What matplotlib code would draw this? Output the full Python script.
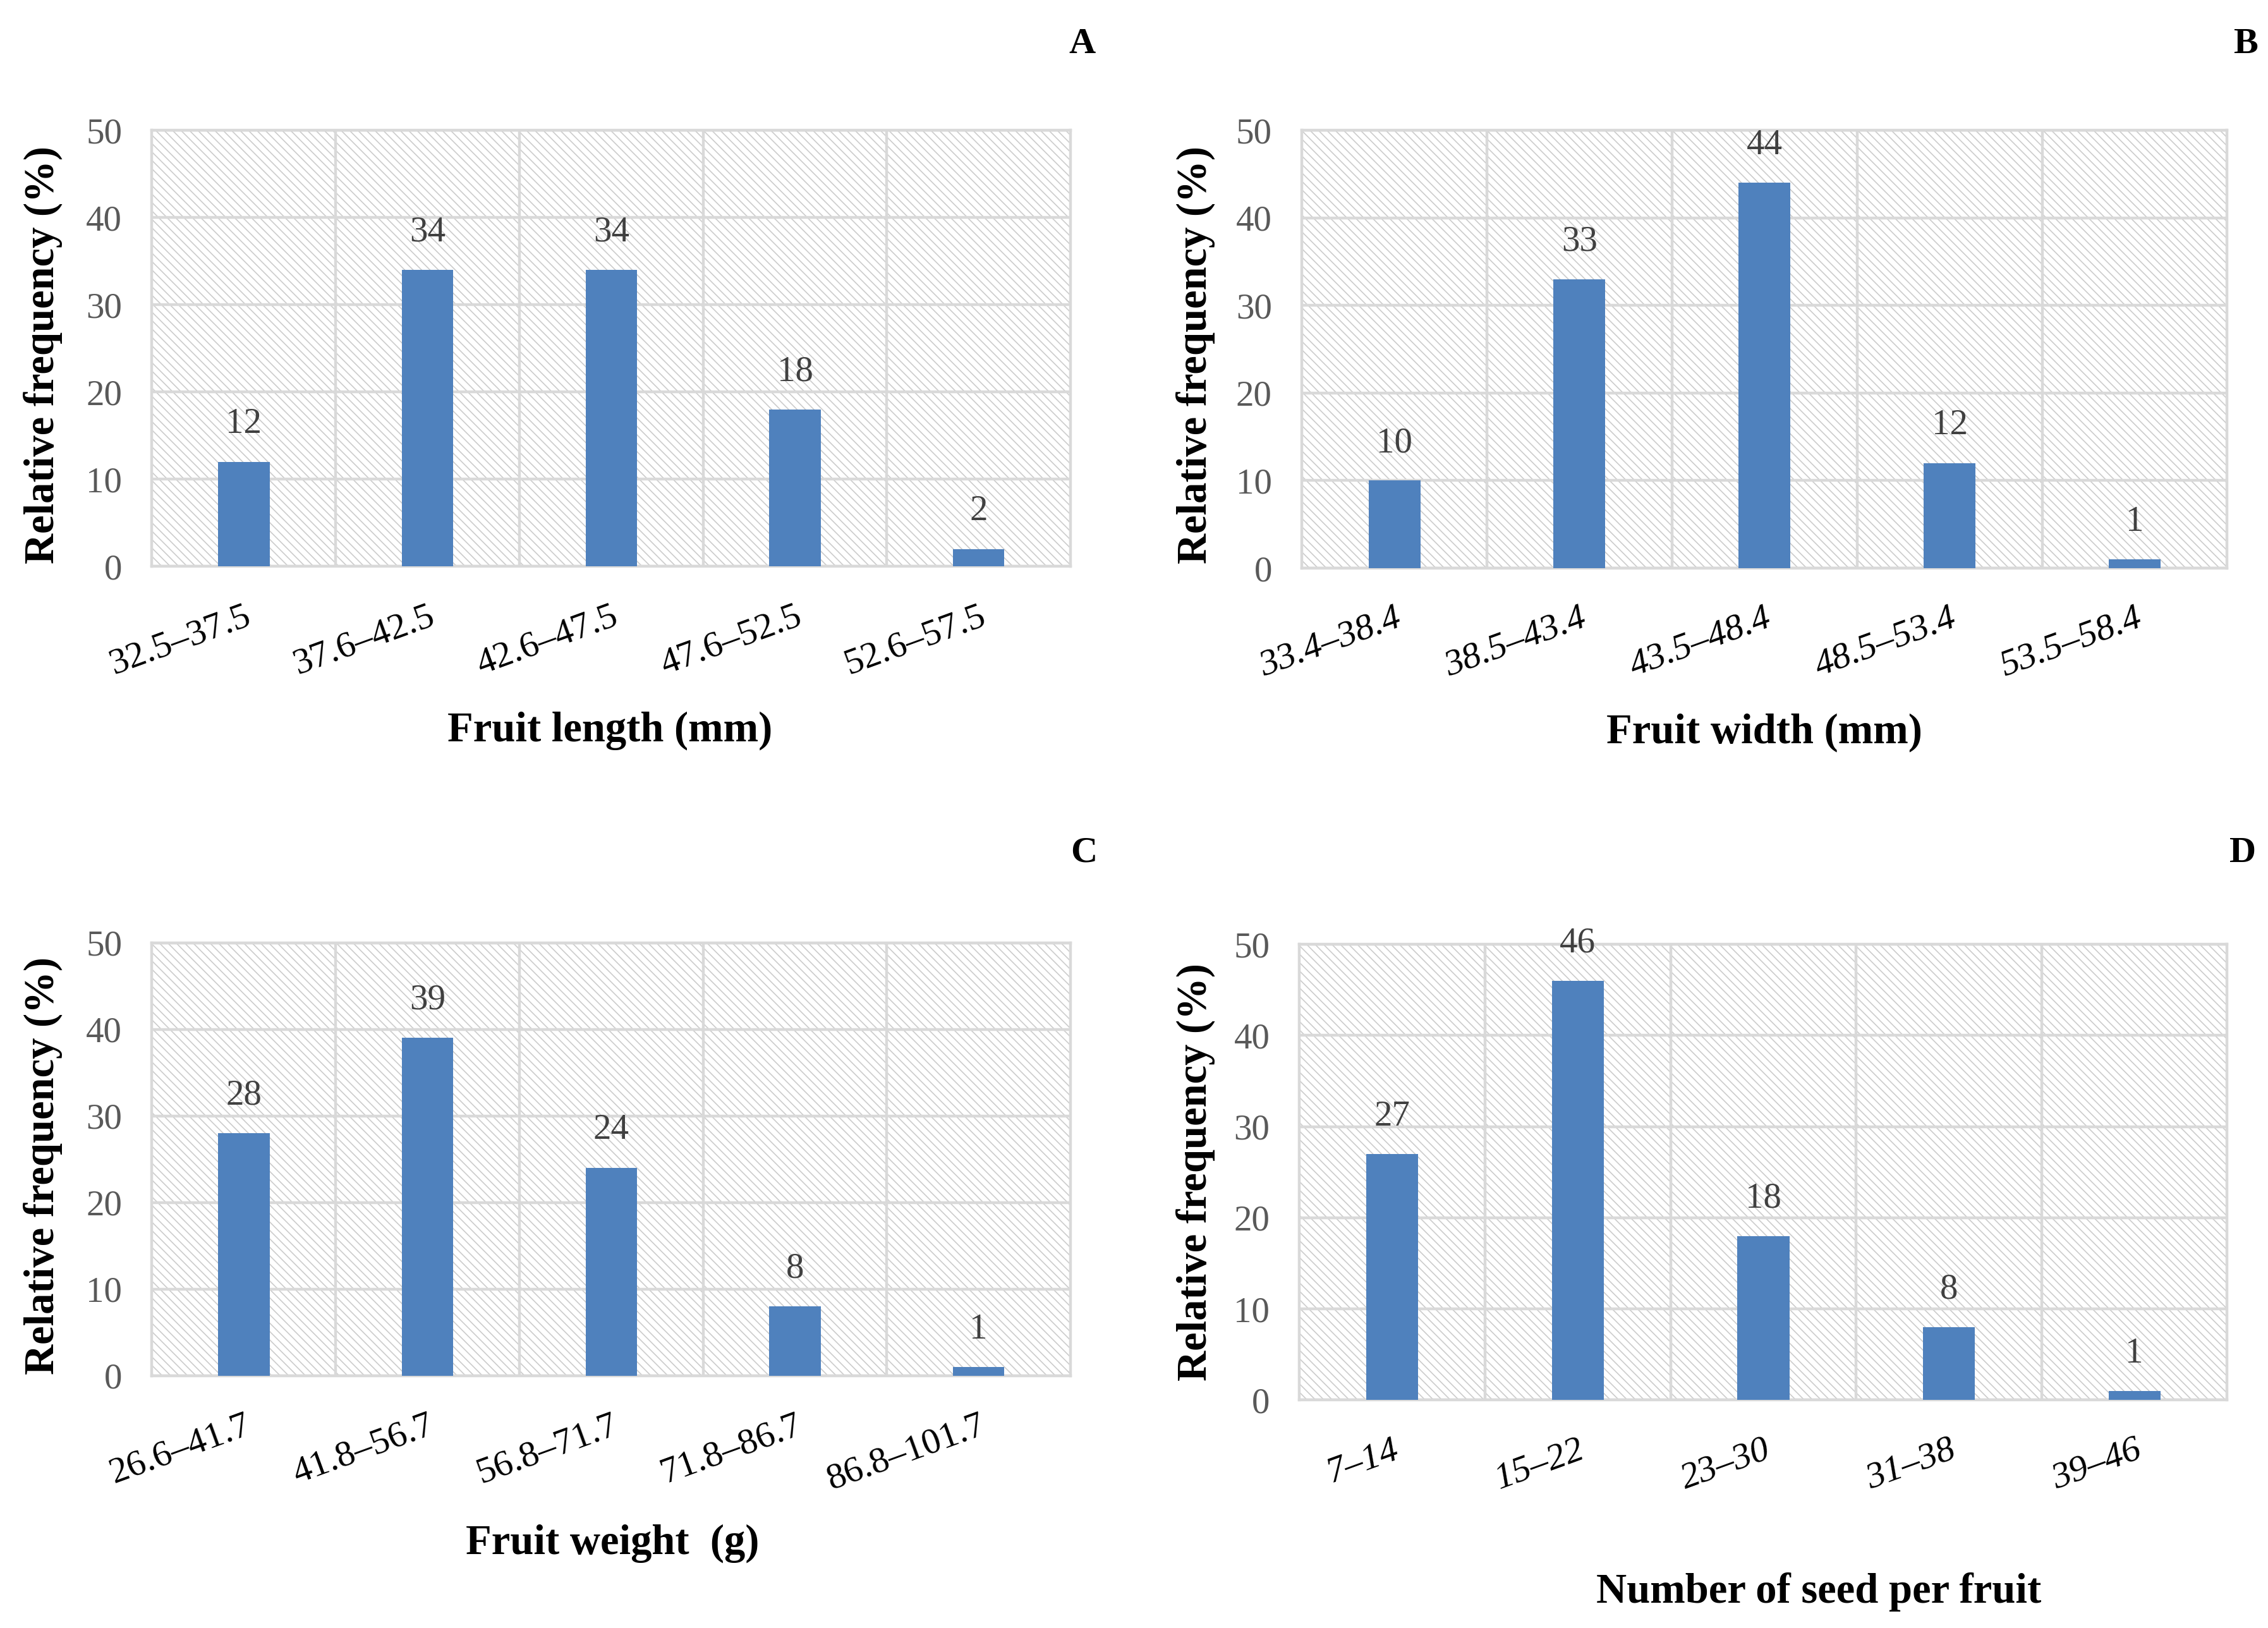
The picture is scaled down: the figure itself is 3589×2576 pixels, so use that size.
import matplotlib
matplotlib.use("Agg")
import matplotlib.pyplot as plt
from matplotlib.patches import Rectangle

# ---- data ----
cats_A = ["32.5–37.5", "37.6–42.5", "42.6–47.5", "47.6–52.5", "52.6–57.5"]
vals_A = [12, 34, 34, 18, 2]
cats_B = ["33.4–38.4", "38.5–43.4", "43.5–48.4", "48.5–53.4", "53.5–58.4"]
vals_B = [10, 33, 44, 12, 1]
cats_C = ["26.6–41.7", "41.8–56.7", "56.8–71.7", "71.8–86.7", "86.8–101.7"]
vals_C = [28, 39, 24, 8, 1]
cats_D = ["7–14", "15–22", "23–30", "31–38", "39–46"]
vals_D = [27, 46, 18, 8, 1]
xlabels = ["Fruit length (mm)", "Fruit width (mm)", "Fruit weight  (g)", "Number of seed per fruit"]
ylabel = "Relative frequency (%)"
letters = ["A", "B", "C", "D"]
yticks = [0, 10, 20, 30, 40, 50]

plt.rcParams["font.family"] = ["Liberation Serif", "DejaVu Serif"]
plt.rcParams["hatch.linewidth"] = 0.6

fig = plt.figure(figsize=(17.945, 12.88), dpi=200)

rects = [
    [0.067, 0.652, 0.405, 0.268],
    [0.574, 0.651, 0.408, 0.269],
    [0.067, 0.155, 0.405, 0.266],
    [0.573, 0.140, 0.409, 0.280],
]
xlab_pos = [(0.269, 0.551), (0.778, 0.550), (0.270, 0.052), (0.802, 0.022)]
ylab_pos = [(0.019, 0.782), (0.527, 0.782), (0.019, 0.284), (0.527, 0.280)]
let_pos = [(0.477, 0.973), (0.990, 0.973), (0.478, 0.476), (0.989, 0.476)]
italic = [False, True, False, True]

grid_c = "#d9d9d9"
bar_c = "#4F81BD"

for i, (cats, vals) in enumerate([(cats_A, vals_A), (cats_B, vals_B), (cats_C, vals_C), (cats_D, vals_D)]):
    ax = fig.add_axes(rects[i])
    ax.set_facecolor("none")
    bg = Rectangle((0, 0), 1, 1, transform=ax.transAxes, facecolor="white",
                   edgecolor="#cccccc", hatch="\\\\\\\\\\", lw=0, zorder=0)
    ax.add_patch(bg)
    x = list(range(len(cats)))
    ax.bar(x, vals, width=0.28, color=bar_c, zorder=3)
    for xi, v in zip(x, vals):
        ax.annotate(str(v), (xi, v), xytext=(0, 12), textcoords="offset points",
                    ha="center", va="bottom", fontsize=20.5, color="#404040", zorder=4)
    ax.set_xlim(-0.5, len(cats) - 0.5)
    ax.set_ylim(0, 50)
    ax.set_yticks(yticks)
    ax.set_yticklabels([str(t) for t in yticks], fontsize=20.5, color="#595959")
    for t in yticks:
        ax.axhline(t, color=grid_c, lw=1.6, zorder=1)
    for b in [k + 0.5 for k in range(len(cats) - 1)]:
        ax.axvline(b, color=grid_c, lw=1.6, zorder=1)
    for s in ax.spines.values():
        s.set_color(grid_c)
        s.set_linewidth(1.6)
        s.set_zorder(1)
    ax.set_xticks(x)
    ax.set_xticklabels(cats, rotation=20, ha="right", rotation_mode="anchor",
                       fontsize=21, color="black",
                       style="italic" if italic[i] else "normal")
    ax.tick_params(axis="both", length=0)
    ax.tick_params(axis="y", pad=17)
    ax.tick_params(axis="x", pad=19)
    fig.text(xlab_pos[i][0], xlab_pos[i][1], xlabels[i], ha="center", va="center",
             fontsize=24, fontweight="bold")
    fig.text(ylab_pos[i][0], ylab_pos[i][1], ylabel, ha="center", va="center",
             rotation=90, fontsize=24, fontweight="bold")
    fig.text(let_pos[i][0], let_pos[i][1], letters[i], ha="center", va="center",
             fontsize=21, fontweight="bold")

fig.savefig("out.png", dpi=200, facecolor="white")
